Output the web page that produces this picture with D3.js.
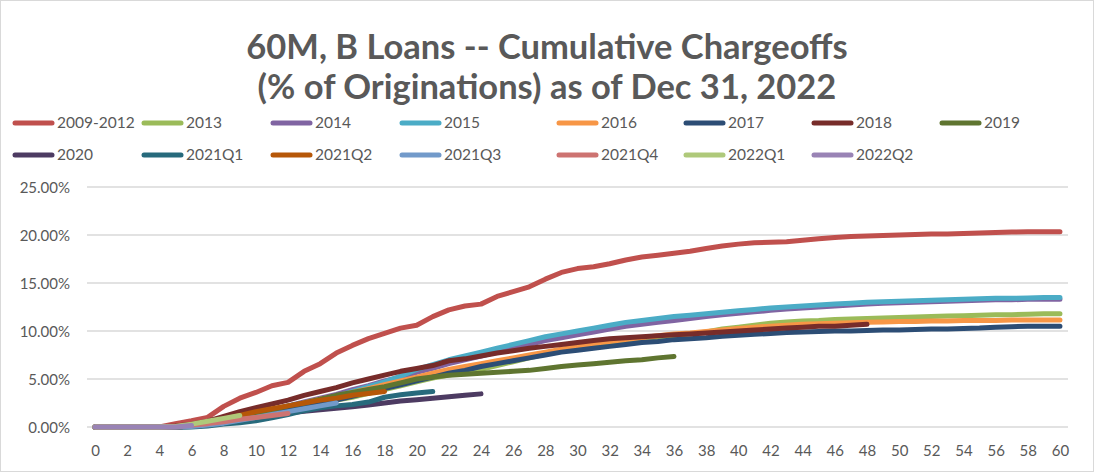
<!DOCTYPE html>
<html><head><meta charset="utf-8">
<script src="https://cdn.jsdelivr.net/npm/d3@7"></script>
<style>body{margin:0;background:#fff}svg{display:block}</style>
</head><body><svg id="c" width="1095" height="474"></svg>
<script>
const months = d3.range(0, 61);
const seriesNames = ["2009-2012","2013","2014","2015","2016","2017","2018","2019","2020","2021Q1","2021Q2","2021Q3","2021Q4","2022Q1","2022Q2"];
const seriesColors = ["#C0504D","#9BBB59","#8064A2","#4BACC6","#F79646","#2C4D75","#772C2A","#5F7530","#4D3B62","#276A7C","#B65708","#729ACA","#CD7371","#AFC97A","#9983B5"];
const yTicks = [0, 0.05, 0.10, 0.15, 0.20, 0.25];
const xTickLabels = d3.range(0, 61, 2);

const s2009_2012 = [0,0,0,0,0,0.35,0.65,1.0,2.15,3.0,3.6,4.3,4.65,5.8,6.6,7.7,8.5,9.2,9.75,10.3,10.6,11.5,12.2,12.6,12.8,13.6,14.1,14.6,15.4,16.1,16.5,16.7,17.0,17.4,17.7,17.9,18.1,18.3,18.6,18.85,19.05,19.2,19.25,19.3,19.45,19.6,19.75,19.85,19.9,19.95,20.0,20.05,20.1,20.1,20.15,20.2,20.25,20.3,20.35,20.35,20.35];
const s2013 = [0,0,0,0,0,0,0.1,0.3,0.6,0.9,1.2,1.5,1.9,2.2,2.5,2.8,3.1,3.5,3.9,4.3,4.7,5.1,5.4,5.7,6.0,6.4,6.8,7.2,7.6,7.9,8.2,8.5,8.7,8.9,9.1,9.3,9.5,9.7,9.9,10.2,10.4,10.6,10.8,10.95,11.05,11.1,11.2,11.25,11.3,11.35,11.4,11.45,11.5,11.55,11.6,11.65,11.7,11.7,11.75,11.8,11.8];
const s2014 = [0,0,0,0,0,0,0.1,0.4,0.7,1.0,1.4,1.8,2.2,2.6,3.0,3.4,3.9,4.3,4.8,5.2,5.7,6.1,6.6,7.0,7.4,7.8,8.2,8.6,9.0,9.3,9.6,9.9,10.2,10.5,10.7,10.9,11.1,11.3,11.5,11.7,11.85,12.0,12.15,12.3,12.4,12.5,12.6,12.7,12.8,12.9,12.95,13.0,13.05,13.1,13.15,13.2,13.25,13.25,13.3,13.3,13.3];
const s2015 = [0,0,0,0,0,0,0.1,0.3,0.6,0.9,1.2,1.6,2.0,2.4,2.8,3.2,3.7,4.2,4.7,5.3,6.0,6.5,7.0,7.4,7.8,8.2,8.6,9.0,9.4,9.7,10.0,10.3,10.6,10.9,11.1,11.3,11.5,11.65,11.8,11.95,12.1,12.25,12.4,12.5,12.6,12.7,12.8,12.9,13.0,13.05,13.1,13.15,13.2,13.25,13.3,13.35,13.4,13.4,13.45,13.5,13.5];
const s2016 = [0,0,0,0,0,0,0.1,0.4,0.7,1.0,1.4,1.7,2.1,2.5,2.9,3.2,3.6,4.0,4.4,4.8,5.2,5.6,6.0,6.3,6.6,6.9,7.2,7.5,7.8,8.1,8.4,8.7,8.9,9.1,9.3,9.5,9.7,9.8,9.95,10.1,10.25,10.4,10.5,10.6,10.7,10.75,10.8,10.85,10.9,10.95,11.0,11.0,11.05,11.05,11.1,11.1,11.1,11.15,11.15,11.15,11.15];
const s2017 = [0,0,0,0,0,0,0.05,0.2,0.5,0.8,1.1,1.4,1.8,2.1,2.5,2.8,3.2,3.6,4.0,4.4,4.8,5.2,5.6,5.9,6.3,6.6,6.9,7.2,7.5,7.8,8.0,8.2,8.4,8.6,8.8,8.9,9.1,9.2,9.3,9.45,9.55,9.65,9.75,9.85,9.9,9.95,10.0,10.0,10.05,10.1,10.1,10.15,10.2,10.2,10.25,10.3,10.4,10.45,10.5,10.5,10.5];
const s2018 = [0,0,0,0,0,0.1,0.3,0.6,1.1,1.6,2.0,2.4,2.8,3.3,3.7,4.1,4.6,5.0,5.4,5.8,6.1,6.4,6.9,7.1,7.4,7.7,7.95,8.2,8.4,8.6,8.8,9.0,9.2,9.3,9.4,9.5,9.6,9.7,9.8,9.9,10.0,10.1,10.2,10.3,10.4,10.5,10.5,10.6,10.7];
const s2019 = [0,0,0,0,0,0,0.1,0.4,0.7,1.0,1.4,1.8,2.2,2.5,2.9,3.3,3.6,3.9,4.2,4.6,5.0,5.2,5.4,5.5,5.6,5.7,5.8,5.9,6.1,6.3,6.45,6.6,6.75,6.9,7.0,7.2,7.35];
const s2020 = [0,0,0,0,0,0,0.05,0.2,0.4,0.6,0.9,1.15,1.45,1.65,1.8,1.95,2.1,2.3,2.5,2.7,2.85,3.0,3.15,3.3,3.45];
const s2021Q1 = [0,0,0,0,0,0,0,0.1,0.3,0.45,0.65,0.95,1.3,1.7,2.0,2.2,2.35,2.6,3.1,3.35,3.55,3.7];
const s2021Q2 = [0,0,0,0,0,0,0.1,0.4,0.8,1.2,1.6,1.9,2.2,2.5,2.8,3.0,3.3,3.5,3.7];
const s2021Q3 = [0,0,0,0,0,0,0.05,0.2,0.4,0.7,1.0,1.3,1.6,1.9,2.2,2.5];
const s2021Q4 = [0,0,0,0,0,0.05,0.2,0.35,0.55,0.8,1.0,1.2,1.4];
const s2022Q1 = [0,0,0,0,0,0.05,0.3,0.6,0.9,1.2];
const s2022Q2 = [0,0,0,0,0,0,0.15];

const seriesValues = [s2009_2012,s2013,s2014,s2015,s2016,s2017,s2018,s2019,s2020,s2021Q1,s2021Q2,s2021Q3,s2021Q4,s2022Q1,s2022Q2];

const svg = d3.select("#c");
const font = "Lato, 'Open Sans', sans-serif";
const textColor = "#595959";

// chart border
svg.append("rect").attr("x",0.5).attr("y",0.5).attr("width",1093).attr("height",471)
  .attr("fill","#fff").attr("stroke","#D9D9D9").attr("stroke-width",1);

// title
const title = svg.append("text").attr("x",547).attr("text-anchor","middle")
  .attr("font-family",font).attr("font-weight","bold").attr("font-size",34.5).attr("fill",textColor);
title.append("tspan").attr("x",547).attr("y",59).text("60M, B Loans -- Cumulative Chargeoffs");
title.append("tspan").attr("x",547).attr("y",99).text("(% of Originations) as of Dec 31, 2022");

// scales
const plot = {left: 87, right: 1068, top: 187, bottom: 427};
const x = d3.scalePoint().domain(months).range([plot.left, plot.right]).padding(0.5);
const y = d3.scaleLinear().domain([0, 0.25]).range([plot.bottom, plot.top]);

// gridlines
svg.append("g").selectAll("line").data(yTicks).join("line")
  .attr("x1",plot.left).attr("x2",plot.right)
  .attr("y1",d=>y(d)).attr("y2",d=>y(d))
  .attr("stroke","#D9D9D9").attr("stroke-width",1.3);

// y axis
const yAxis = svg.append("g").attr("transform",`translate(${plot.left-17},0)`)
  .call(d3.axisLeft(y).tickValues(yTicks).tickFormat(d3.format(".2%")).tickSize(0).tickPadding(0));
yAxis.select(".domain").remove();
yAxis.selectAll("text").attr("font-family",font).attr("font-size",15).attr("fill",textColor).attr("dy","0.35em");

// x axis
const xAxis = svg.append("g").attr("transform",`translate(0,${plot.bottom})`)
  .call(d3.axisBottom(x).tickValues(xTickLabels).tickSize(0).tickPadding(18));
xAxis.select(".domain").remove();
xAxis.selectAll("text").attr("font-family",font).attr("font-size",15).attr("fill",textColor);

// lines
const line = d3.line().x((d,i)=>x(months[i])).y(d=>y(d/100));
svg.append("g").selectAll("path").data(seriesValues).join("path")
  .attr("d", d=>line(d))
  .attr("fill","none")
  .attr("stroke",(d,i)=>seriesColors[i])
  .attr("stroke-width",5)
  .attr("stroke-linejoin","round")
  .attr("stroke-linecap","round");

// legend
const legCols = [13, 142, 271, 400, 557, 684, 812, 940];
const legRows = [123, 155];
const leg = svg.append("g").selectAll("g").data(seriesNames).join("g")
  .attr("transform",(d,i)=>`translate(${legCols[i % 8]},${legRows[Math.floor(i/8)]})`);
leg.append("line").attr("x1",2).attr("x2",39).attr("y1",0).attr("y2",0)
  .attr("stroke",(d,i)=>seriesColors[i]).attr("stroke-width",5).attr("stroke-linecap","round");
leg.append("text").attr("x",44).attr("y",0).attr("dy","0.35em")
  .attr("font-family",font).attr("font-size",15.5).attr("fill",textColor).text(d=>d);
</script></body></html>
